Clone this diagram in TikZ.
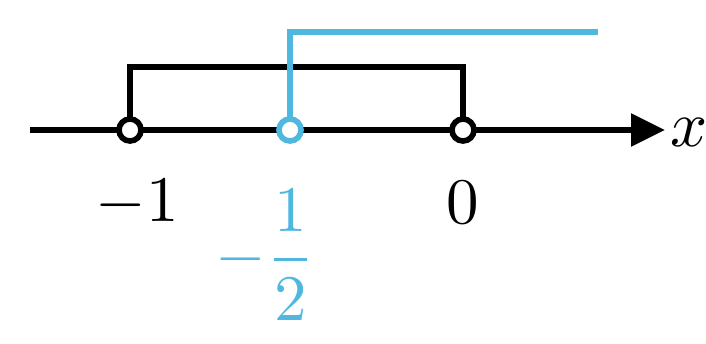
\documentclass[tikz,border=0pt]{standalone}
\usepackage{amsmath}
\usetikzlibrary{arrows.meta}
\definecolor{skyblue}{RGB}{80,184,222}
\tikzset{
  axis/.style={line width=3.2pt, -{Triangle[length=6.8mm,width=6.4mm]}},
  bound/.style={line width=3.2pt},
  hole/.style={circle, draw, line width=3.2pt, fill=white, inner sep=0pt,
               minimum size=4.4mm},
  tick/.style={scale=3.7, inner sep=0pt}
}
\begin{document}
\begin{tikzpicture}[x=0.02cm, y=-0.02cm]
  \useasboundingbox (0,0) rectangle (706,343);
  \coordinate (left) at (30,130);
  \coordinate (right) at (665,130);
  \coordinate (p1) at (130,130);
  \coordinate (ph) at (290,130);
  \coordinate (p0) at (463,130);
  \coordinate (topend) at (598,32);
  % interval (-1,0)
  \draw[bound] (p1) -- (p1 |- 0,67) -| (p0);
  \draw[axis] (left) -- (right);
  % x > -1/2
  \draw[bound, skyblue] (ph) |- (topend);
  \node[hole] (h1) at (p1) {};
  \node[hole, draw=skyblue] (hh) at (ph) {};
  \node[hole] (h0) at (p0) {};
  \node[tick, anchor=west] (xlab) at (669,132) {$x$};
  \node[tick] (l1) at (137,203) {$-1$};
  \node[tick] (l0) at (463,203) {$0$};
  \node[tick, text=skyblue] (lh) at (265,255) {$-\dfrac{1}{2}$};
\end{tikzpicture}
\end{document}
